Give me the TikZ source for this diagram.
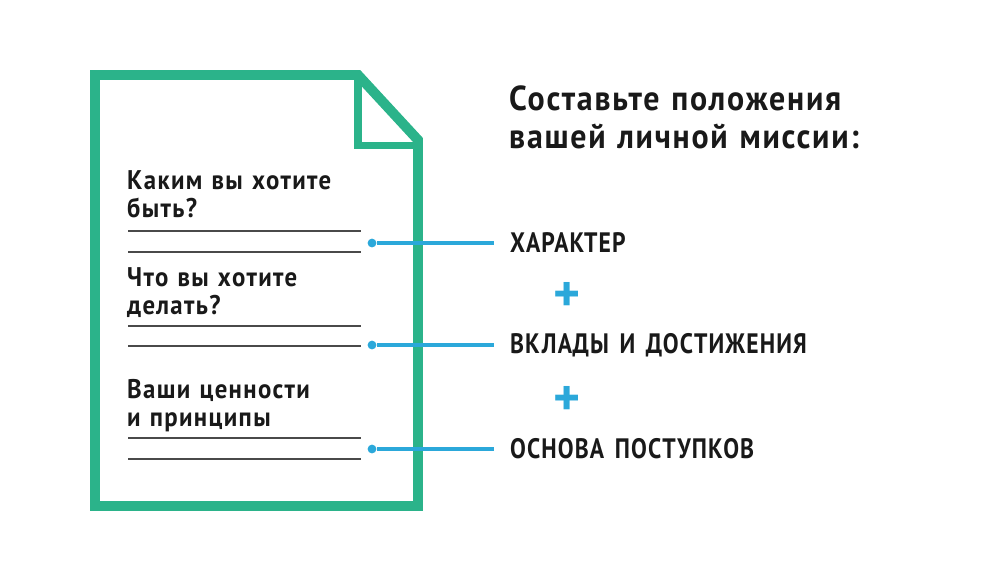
\documentclass[tikz,border=0pt]{standalone}
\usepackage{xcolor}
\usepackage{fontspec}
\setmainfont{PT Sans}
\newfontfamily\narrowfont[FakeStretch=0.84,LetterSpace=4,WordSpace=1.5]{PT Sans}
\newfontfamily\askfont[FakeStretch=0.92,LetterSpace=5,WordSpace=1.2]{PT Sans}
\definecolor{docgreen}{HTML}{2BB38A}
\definecolor{linkblue}{HTML}{2BA8DA}
\definecolor{rulegray}{HTML}{4A4A4A}
\tikzset{
    ask/.style={anchor=north west, align=left, inner sep=0pt, font=\askfont\fontsize{23}{23.9}\selectfont\bfseries, text=black!90},
    item/.style={anchor=west, inner ysep=0pt, inner xsep=13.6pt, font=\narrowfont\fontsize{24}{24}\selectfont\bfseries, text=black!90},
    dot/.style={circle, fill=linkblue, inner sep=0pt, minimum size=7.5pt},
    link/.style={draw=linkblue, line width=2.6pt},
    rule/.style={draw=rulegray, line width=1.3pt},
    plussign/.style={inner sep=0pt, text=linkblue, font=\fontsize{44}{44}\selectfont\bfseries}
}
\begin{document}
\begin{tikzpicture}[x=0.03cm, y=-0.03cm]
    \useasboundingbox (0,0) rectangle (1000,576);
    \def\dotx{372}
    \def\rulea{128}
    \def\ruleb{361}
    % page
    \draw[docgreen, line width=8.5pt, miter limit=10] (95,75) -- (358,75) -- (418,140) -- (418,506) -- (95,506) -- cycle;
    \draw[docgreen, line width=6.8pt] (358,75) -- (358,145.5) -- (418,145.5);
    % questions
    \node[ask] (q1) at (127,170) {Каким вы хотите\\быть?};
    \node[ask] (q2) at (127,267) {Что вы хотите\\делать?};
    \node[ask] (q3) at (127,379) {Ваши ценности\\и принципы};
    % answer rules
    \draw[rule] (\rulea,231) coordinate (r1a) -- (\ruleb,231) coordinate (r1b);
    \draw[rule] (\rulea,252) coordinate (r2a) -- (\ruleb,252) coordinate (r2b);
    \draw[rule] (\rulea,326) coordinate (r3a) -- (\ruleb,326) coordinate (r3b);
    \draw[rule] (\rulea,346) coordinate (r4a) -- (\ruleb,346) coordinate (r4b);
    \draw[rule] (\rulea,438) coordinate (r5a) -- (\ruleb,438) coordinate (r5b);
    \draw[rule] (\rulea,459) coordinate (r6a) -- (\ruleb,459) coordinate (r6b);
    % title and items
    \node[anchor=north west, align=left, inner sep=0pt, font=\askfont\fontsize{29.6}{32.5}\selectfont\bfseries, text=black!90] (title) at (509,85) {Составьте положения\\вашей личной миссии:};
    \node[dot] (d1) at (\dotx,243) {};
    \node[dot] (d2) at (\dotx,345) {};
    \node[dot] (d3) at (\dotx,449) {};
    \node[item] (i1) at (494,243) {ХАРАКТЕР};
    \node[item] (i2) at (494,345) {ВКЛАДЫ И ДОСТИЖЕНИЯ};
    \node[item] (i3) at (494,449) {ОСНОВА ПОСТУПКОВ};
    \draw[link] (d1) -- (i1.west);
    \draw[link] (d2) -- (i2.west);
    \draw[link] (d3) -- (i3.west);
    \node[plussign] (p1) at (567,296.5) {+};
    \node[plussign] (p2) at (567,400.5) {+};
\end{tikzpicture}
\end{document}
